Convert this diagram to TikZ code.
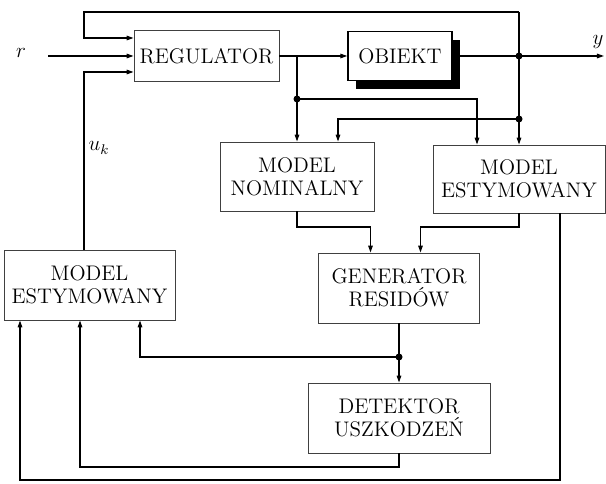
\documentclass[tikz,border=0pt]{standalone}
\usepackage{amsmath}
\usepackage{tikz}
\usetikzlibrary{calc}
\usetikzlibrary{arrows.meta}
\usetikzlibrary{shadows}

\begin{document}
\begin{tikzpicture}[
  blok/.style={draw=black!75, line width=0.5pt, align=center, inner sep=0pt, font=\fontsize{12}{13}\selectfont},
  strzalka/.style={-{Triangle[length=4pt, width=2.6pt]}, line width=0.7pt},
  etykieta/.style={font=\large}
]

\useasboundingbox (0,0) rectangle (12.12,-9.68);

% Blocks
\node[blok, minimum width=2.9cm, minimum height=1.02cm] (regulator) at (4.13,-1.12) {REGULATOR};
\node[blok, draw=black, line width=0.8pt, fill=white, minimum width=2.08cm, minimum height=0.98cm,
  drop shadow={shadow xshift=0.16cm, shadow yshift=-0.18cm, fill=black, opacity=1}] (obiekt) at (8.0,-1.12) {OBIEKT};
\node[blok, minimum width=3.08cm, minimum height=1.38cm] (nominal) at (5.94,-3.53) {MODEL\\NOMINALNY};
\node[blok, minimum width=3.44cm, minimum height=1.36cm] (estR) at (10.38,-3.58) {MODEL\\ESTYMOWANY};
\node[blok, minimum width=3.22cm, minimum height=1.4cm] (generator) at (7.98,-5.76) {GENERATOR\\RESIDÓW};
\node[blok, minimum width=3.42cm, minimum height=1.4cm] (estL) at (1.79,-5.7) {MODEL\\ESTYMOWANY};
\node[blok, minimum width=3.64cm, minimum height=1.4cm] (detektor) at (7.98,-8.36) {DETEKTOR\\USZKODZEŃ};

% Signals
\node[etykieta] (r) at (0.42,-1.06) {$r$};
\node[etykieta] (y) at (11.96,-0.84) {$y$};
\node[etykieta] (uk) at (1.98,-2.96) {$u_k$};

% Branch points and bends
\coordinate (dotA) at (5.94,-1.98);
\coordinate (dotB) at (10.38,-2.38);
\coordinate (dotY) at (10.38,-1.12);
\coordinate (dotC) at (7.98,-7.14);
\coordinate (gora) at (1.68,-0.24);
\coordinate (wejscieR) at (0.96,-1.12);
\coordinate (wyjscie) at (12.08,-1.12);
\coordinate (laczenie) at (0,-4.54);
\coordinate (dol1) at (1.6,-9.34);
\coordinate (dol2) at (0.4,-9.6);
\coordinate (wejG1) at ($(generator.north)+(-0.57,0)$);
\coordinate (wejG2) at ($(generator.north)+(0.43,0)$);

% Main loop
\draw[strzalka] (wejscieR) -- (regulator.west);
\draw[strzalka] (regulator.east) -- (obiekt.west);
\draw[strzalka] (obiekt.east) -- (wyjscie);
\draw[strzalka] (gora -| dotY) -- (gora) |- ($(regulator.west)+(0,0.36)$);
\draw[strzalka] (estL.north -| gora) |- ($(regulator.west)+(0,-0.32)$);

% Models
\draw[strzalka] (regulator.east -| dotA) -- (nominal.north);
\draw[strzalka] (dotA) -| ($(estR.north)+(-0.84,0)$);
\draw[strzalka] (gora -| dotY) -- (estR.north);
\draw[strzalka] (dotB) -| ($(nominal.north)+(0.82,0)$);

% Residuals and detection
\draw[strzalka] (nominal.south) |- (laczenie -| wejG1) -- (wejG1);
\draw[strzalka] (estR.south) |- (laczenie -| wejG2) -- (wejG2);
\draw[strzalka] (generator.south) -- (detektor.north);
\draw[strzalka] (dotC) -| ($(estL.south)+(1.01,0)$);
\draw[strzalka] (detektor.south) |- (dol1) -- (dol1 |- estL.south);
\draw[strzalka] ($(estR.south)+(0.82,0)$) |- (dol2) -- (dol2 |- estL.south);

\foreach \k in {dotA,dotB,dotY,dotC}
  \fill (\k) circle (0.07);

\end{tikzpicture}
\end{document}
